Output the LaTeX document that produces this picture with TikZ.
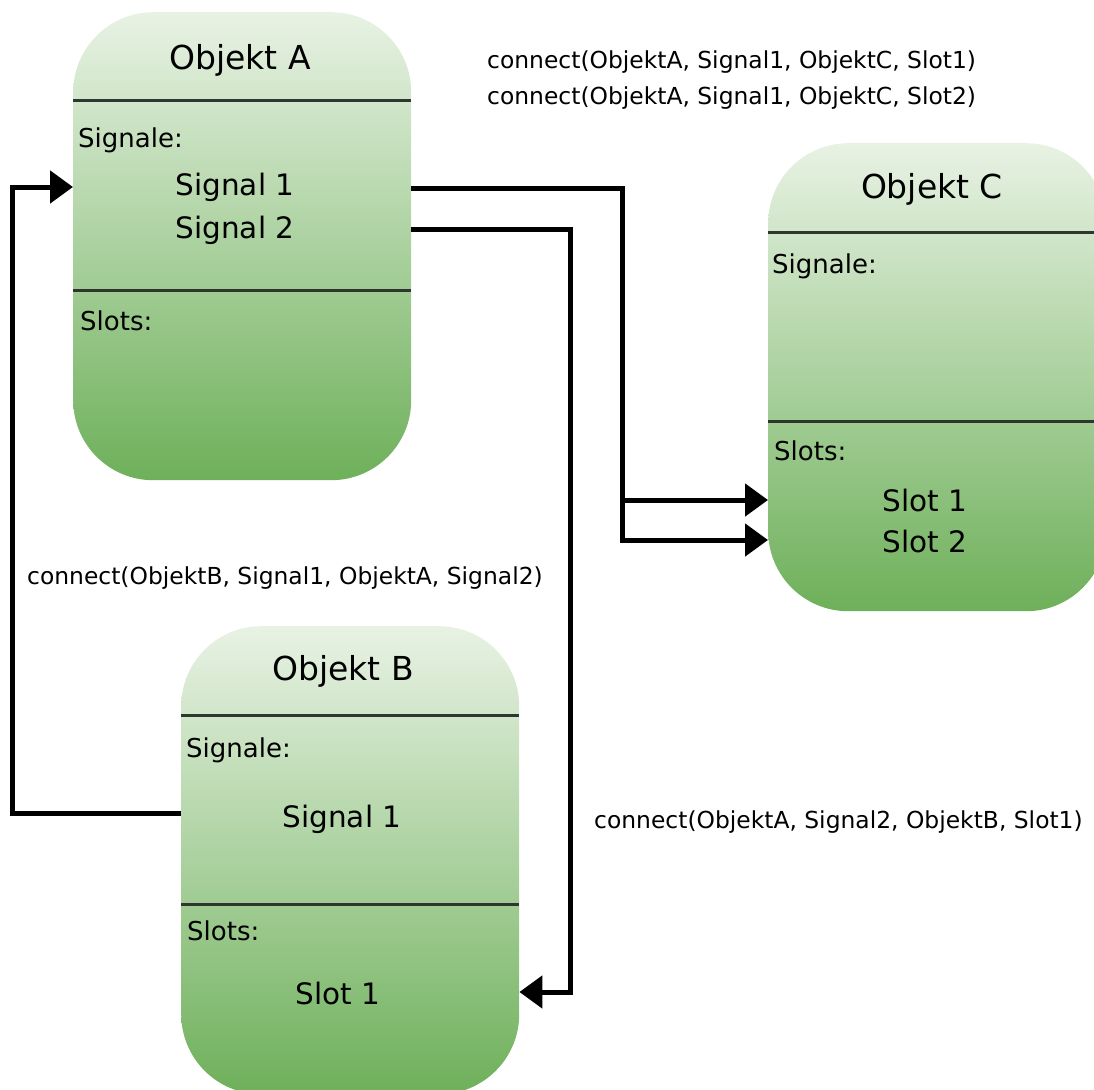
\documentclass[tikz,border=0pt]{standalone}
\usepackage{fontspec}
\setmainfont{DejaVu Sans}
\usetikzlibrary{arrows.meta}

\definecolor{boxtop}{RGB}{232,242,228}
\definecolor{boxbottom}{RGB}{110,176,90}
\definecolor{rule}{RGB}{45,55,45}

\tikzset{
  objbox/.style={rectangle, rounded corners=80pt, inner sep=0pt,
    minimum width=338pt, minimum height=468pt, anchor=north west,
    top color=boxtop, bottom color=boxbottom},
  divider/.style={draw=rule, line width=3pt},
  objtitle/.style={inner sep=0pt, anchor=base, font=\fontsize{33}{38}\selectfont},
  section/.style={inner sep=0pt, anchor=base west, font=\fontsize{26}{30}\selectfont},
  member/.style={inner sep=0pt, anchor=base, font=\fontsize{29.5}{34}\selectfont},
  call/.style={inner sep=0pt, anchor=west, font=\fontsize{23.4}{27}\selectfont},
  conn/.style={draw=black, line width=5pt, line join=miter},
  tip/.style={-{Triangle[length=23pt,width=32pt]}}
}

\begin{document}
\begin{tikzpicture}[x=1pt,y=-1pt]
  \useasboundingbox (0,0) rectangle (1094,1089);

  % object boxes
  \node[objbox] (A) at (73,12) {};
  \node[objbox] (C) at (768,143) {};
  \node[objbox] (B) at (181,626) {};

  % compartment rules
  \foreach \b in {A,B,C} {
    \draw[divider] ([yshift=-89pt]\b.north west) -- ([yshift=-89pt]\b.north east);
    \draw[divider] ([yshift=-278pt]\b.north west) -- ([yshift=-278pt]\b.north east);
  }

  % Objekt A
  \node[objtitle] (A-title) at (240,70) {Objekt A};
  \node[section] (A-sig) at (78,147) {Signale:};
  \node[member] (A-s1) at (235,195) {Signal 1};
  \node[member] (A-s2) at (235,238) {Signal 2};
  \node[section] (A-slots) at (80,330) {Slots:};

  % Objekt C
  \node[objtitle] (C-title) at (932,198) {Objekt C};
  \node[section] (C-sig) at (772,273) {Signale:};
  \node[section] (C-slots) at (774,460) {Slots:};
  \node[member] (C-sl1) at (925,511) {Slot 1};
  \node[member] (C-sl2) at (925,552) {Slot 2};

  % Objekt B
  \node[objtitle] (B-title) at (343,680) {Objekt B};
  \node[section] (B-sig) at (186,757) {Signale:};
  \node[member] (B-s1) at (342,827) {Signal 1};
  \node[section] (B-slots) at (187,940) {Slots:};
  \node[member] (B-sl1) at (338,1004) {Slot 1};

  % connect() calls
  \node[call] (call1) at (487,62) {connect(ObjektA, Signal1, ObjektC, Slot1)};
  \node[call] (call2) at (487,98) {connect(ObjektA, Signal1, ObjektC, Slot2)};
  \node[call] (call3) at (27,578) {connect(ObjektB, Signal1, ObjektA, Signal2)};
  \node[call] (call4) at (594,822) {connect(ObjektA, Signal2, ObjektB, Slot1)};

  % ports and bends
  \coordinate (pA1) at (A.east |- 0,188);
  \coordinate (pA2) at (A.east |- 0,229);
  \coordinate (pAin) at (A.west |- 0,187);
  \coordinate (pC1) at (C.west |- 0,500);
  \coordinate (pC2) at (C.west |- 0,540);
  \coordinate (pBin) at (B.east |- 0,992);
  \coordinate (pBout) at (B.west |- 0,813);
  \coordinate (trunkC) at (622,0);
  \coordinate (trunkB) at (570,0);
  \coordinate (trunkA) at (12,0);

  % connectors
  \draw[conn,tip] (pA1) -- (pA1 -| trunkC) -- (pC2 -| trunkC) -- (pC2);
  \draw[conn,tip] (pC1 -| trunkC) -- (pC1);
  \draw[conn,tip] (pA2) -- (pA2 -| trunkB) -- (pBin -| trunkB) -- (pBin);
  \draw[conn,tip] (pBout) -- (pBout -| trunkA) -- (pAin -| trunkA) -- (pAin);
\end{tikzpicture}
\end{document}
